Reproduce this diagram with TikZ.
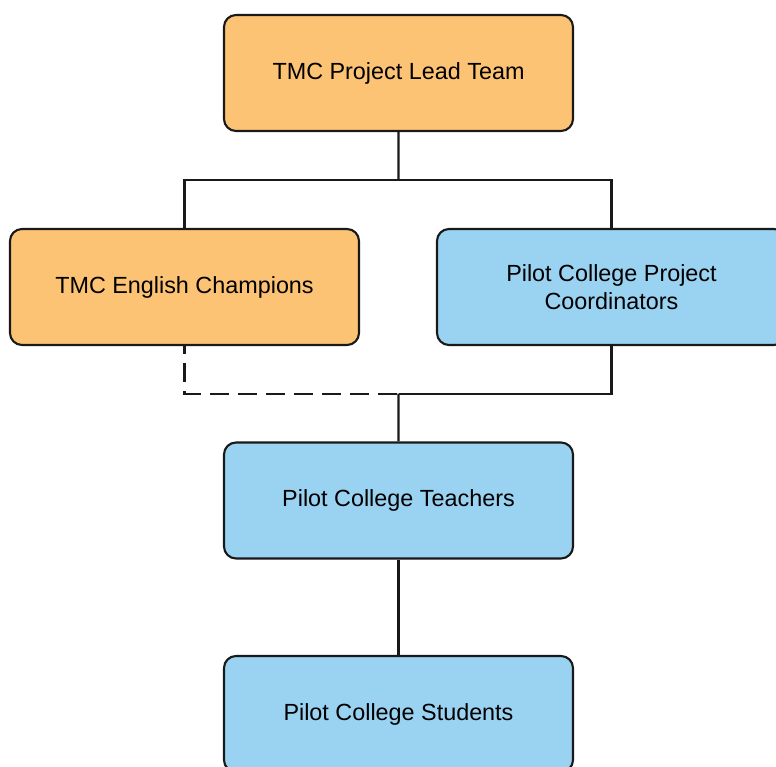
\documentclass[tikz,border=0pt]{standalone}
\usepackage{fontspec}
\setmainfont{Liberation Sans}
\usetikzlibrary{calc}

\definecolor{leadorange}{RGB}{253,195,116}
\definecolor{pilotblue}{RGB}{154,210,241}

\begin{document}
\begin{tikzpicture}[line width=1.2pt]
    \tikzset{
        box/.style={draw=black!90, line width=1.2pt, rounded corners=0.24cm,
            minimum width=6.98cm, minimum height=2.32cm, inner sep=0pt,
            align=center, font=\fontsize{13.3}{16}\selectfont},
        orangebox/.style={box, fill=leadorange},
        bluebox/.style={box, fill=pilotblue},
        link/.style={draw=black!90, line width=1.2pt},
        weaklink/.style={link, dash pattern=on 0.38cm off 0.18cm, dash phase=0.22cm}
    };
    \useasboundingbox (0, 0) rectangle (15.52, -15.34);
    \clip (0, 0) rectangle (15.52, -15.34);
    % boxes
    \node[orangebox] (lead) at (7.97, -1.46) {TMC Project Lead Team};
    \node[orangebox] (champions) at (3.69, -5.74) {TMC English Champions};
    \node[bluebox] (coordinators) at (12.23, -5.74) {Pilot College Project\\Coordinators};
    \node[bluebox] (teachers) at (7.97, -10.01) {Pilot College Teachers};
    \node[bluebox] (students) at (7.97, -14.28) {Pilot College Students};
    % junctions
    \coordinate (split) at ($(lead.south)!0.5!(lead.south |- champions.north)$);
    \coordinate (merge) at ($(teachers.north)!0.5!(teachers.north |- champions.south)$);
    % connectors
    \draw[link] (lead) -- (split);
    \draw[link] (split) -| (champions.north);
    \draw[link] (split) -| (coordinators.north);
    \draw[weaklink] (champions.south) |- (merge);
    \draw[link] (coordinators.south) |- (merge);
    \draw[link] (merge) -- (teachers);
    \draw[link] (teachers) -- (students);
\end{tikzpicture}
\end{document}
